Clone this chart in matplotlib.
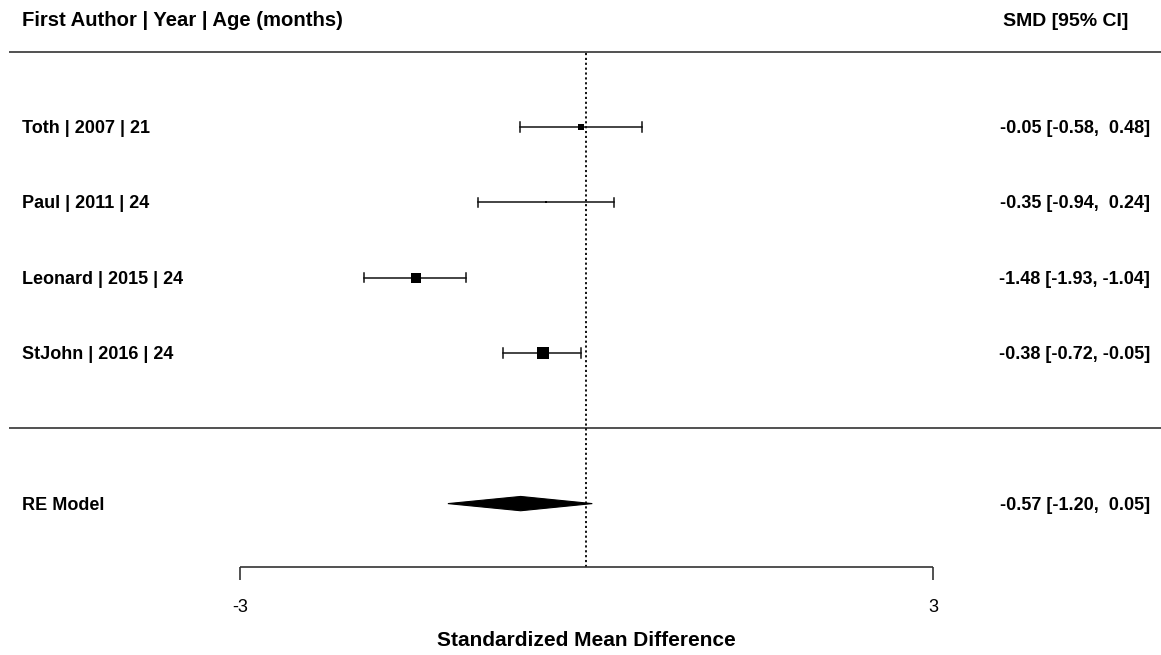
import matplotlib
matplotlib.use("Agg")
import matplotlib.pyplot as plt
from matplotlib.patches import Polygon

# Study-level data
studies = ["Toth | 2007 | 21", "Paul | 2011 | 24", "Leonard | 2015 | 24", "StJohn | 2016 | 24"]
smd = [-0.05, -0.35, -1.48, -0.38]
ci_low = [-0.58, -0.94, -1.93, -0.72]
ci_high = [0.48, 0.24, -1.04, -0.05]
weights = [24.3, 23.3, 25.7, 26.7]

# Pooled random-effects estimate
re_label = "RE Model"
re_est = -0.57
re_low = -1.20
re_high = 0.05

header_left = "First Author | Year | Age (months)"
header_right = "SMD [95% CI]"
xlabel = "Standardized Mean Difference"
xticks = [-3, 3]

plt.rcParams["font.family"] = ["Liberation Sans", "DejaVu Sans"]

W, H = 1161, 655
fig = plt.figure(figsize=(W / 100, H / 100), dpi=100)
ax = fig.add_axes([0, 0, 1, 1])
ax.set_axis_off()

ppu = 115.5          # pixels per SMD unit
x0 = 586.5           # pixel position of zero
row_px = 75.3        # pixels per row
y_row0 = 428.3       # pixel position of row 0
ax.set_xlim(-x0 / ppu, (W - x0) / ppu)
ax.set_ylim((y_row0 - H) / row_px, y_row0 / row_px)


def px_x(p):
    return (p - x0) / ppu


def px_y(p):
    return (y_row0 - p) / row_px


k = len(studies)
rows = list(range(k, 0, -1))
re_row = -1
fs = 13.0
fs_head_left = 14.6
fs_head_right = 14.0
fs_xlab = 15.0
dy = 1.5 / row_px    # small nudge so text sits on the row centre

x_left = px_x(22)
x_right = px_x(1150)
x_line0 = px_x(9)
x_line1 = px_x(W)

# header and rules
ax.text(x_left, px_y(21), header_left, ha="left", va="center", fontsize=fs_head_left, fontweight="bold")
ax.text(px_x(1128), px_y(21), header_right, ha="right", va="center", fontsize=fs_head_right, fontweight="bold")
ax.plot([x_line0, x_line1], [k + 1, k + 1], color="#333333", lw=1.2, solid_capstyle="butt")
ax.plot([x_line0, x_line1], [0, 0], color="#333333", lw=1.2, solid_capstyle="butt")

# reference line at zero
axis_row = px_y(567)
ax.plot([0, 0], [axis_row, k + 1], color="black", lw=1.3, linestyle=(0, (1.2, 1.5)))

# study estimates with confidence intervals
wmin, wmax = min(weights), max(weights)
cap = 0.062
lw_ci = 1.1
for r, lab, est, lo, hi, w in zip(rows, studies, smd, ci_low, ci_high, weights):
    ax.plot([lo, hi], [r, r], color="#111111", lw=lw_ci)
    ax.plot([lo, lo], [r - cap, r + cap], color="#111111", lw=lw_ci)
    ax.plot([hi, hi], [r - cap, r + cap], color="#111111", lw=lw_ci)
    size_px = 2.5 + 10.2 * (w - wmin) / (wmax - wmin)
    ax.plot([est], [r], marker="s", color="black", markersize=size_px * 0.72, mew=0)
    ax.text(x_left, r - dy, lab, ha="left", va="center", fontsize=fs, fontweight="bold")
    ax.text(x_right, r - dy, f"{est:.2f} [{lo:.2f}, {'' if hi < 0 else ' '}{hi:.2f}]",
            ha="right", va="center", fontsize=fs, fontweight="bold")

# pooled estimate diamond
dh = 0.095
diamond = Polygon([[re_low, re_row], [re_est, re_row + dh], [re_high, re_row], [re_est, re_row - dh]],
                  closed=True, facecolor="black", edgecolor="black", lw=0.8)
ax.add_patch(diamond)
ax.text(x_left, re_row - dy, re_label, ha="left", va="center", fontsize=fs, fontweight="bold")
ax.text(x_right, re_row - dy, f"{re_est:.2f} [{re_low:.2f}, {'' if re_high < 0 else ' '}{re_high:.2f}]",
        ha="right", va="center", fontsize=fs, fontweight="bold")

# x axis
tick_end = px_y(580)
ax.plot([xticks[0], xticks[-1]], [axis_row, axis_row], color="#333333", lw=1.2, solid_capstyle="butt")
for t in xticks:
    ax.plot([t, t], [axis_row, tick_end], color="#333333", lw=1.2, solid_capstyle="butt")
    ax.text(t, px_y(607), f"{t:g}", ha="center", va="center", fontsize=fs)
ax.text(0, px_y(641), xlabel, ha="center", va="center", fontsize=fs_xlab, fontweight="bold")

fig.savefig("out.png", dpi=100, facecolor="white")
